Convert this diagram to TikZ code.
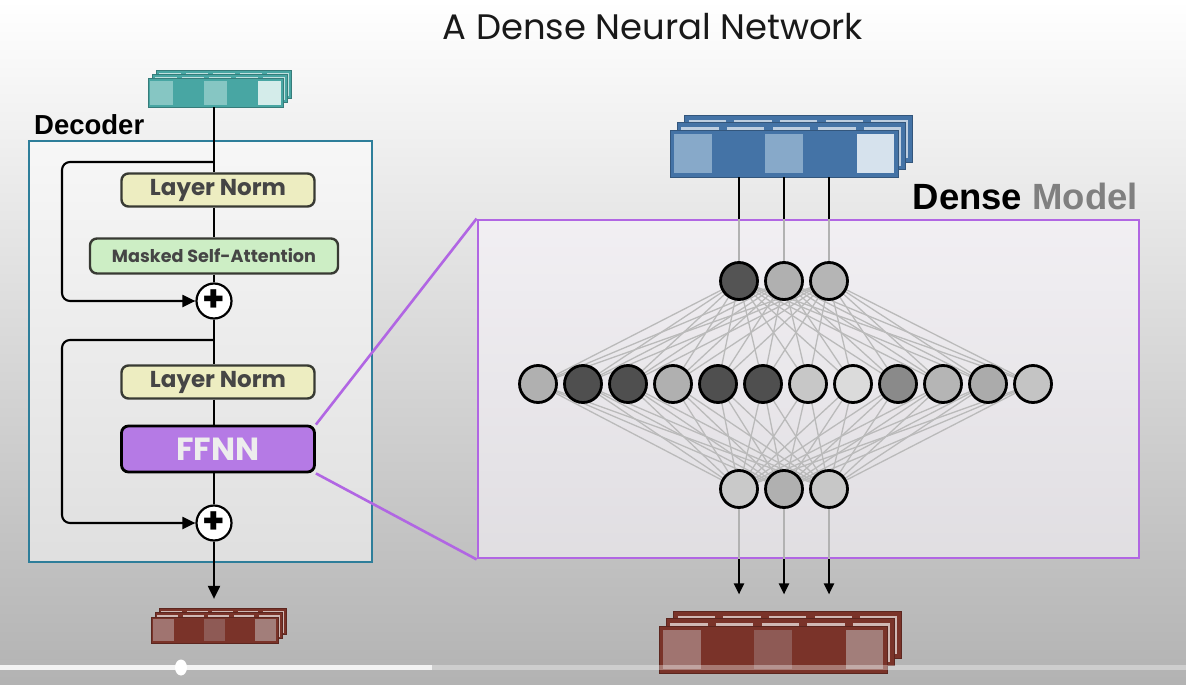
\documentclass[tikz,border=0pt]{standalone}
\usepackage{fontspec}
\setmainfont{Poppins}
\newfontfamily\headfont{Liberation Sans}
\usetikzlibrary{arrows,arrows.meta}
\usetikzlibrary{positioning}

\pgfdeclarelayer{bg}
\pgfdeclarelayer{wires}
\pgfsetlayers{bg,wires,main}

\definecolor{tealfr}{HTML}{48A6A3}
\definecolor{teallt}{HTML}{86C6C3}
\definecolor{tealxl}{HTML}{D4ECEA}
\definecolor{bluefr}{HTML}{4473A6}
\definecolor{bluelt}{HTML}{87A9C9}
\definecolor{bluexl}{HTML}{D6E2ED}
\definecolor{redfr}{HTML}{7A3329}
\definecolor{redlt}{HTML}{A07470}
\definecolor{redmd}{HTML}{8E5A55}
\definecolor{redxl}{HTML}{A27E7A}
\definecolor{normfill}{HTML}{EDEDC1}
\definecolor{attnfill}{HTML}{CDEEC5}
\definecolor{ffnnfill}{HTML}{B57AE5}
\definecolor{boxline}{HTML}{383A33}
\definecolor{boxtext}{HTML}{454545}
\definecolor{decline}{HTML}{2E7E9A}
\definecolor{zoomline}{HTML}{B166E3}
\definecolor{modelgray}{HTML}{808080}

\begin{document}
\begin{tikzpicture}[x=1pt,y=-1pt,>={Triangle[length=13pt,width=12pt]},
    flow/.style={draw=black,line width=2.1pt},
    layer box/.style={rectangle,rounded corners=7pt,draw=boxline,line width=2.4pt,inner sep=0pt,
                      text=boxtext,minimum width=193pt},
    norm node/.style={layer box,fill=normfill,minimum height=33pt,font=\bfseries\fontsize{23}{23}\selectfont},
    attn node/.style={layer box,fill=attnfill,minimum width=248pt,minimum height=35pt,
                      font=\bfseries\fontsize{17.6}{17.6}\selectfont},
    ffnn node/.style={layer box,fill=ffnnfill,draw=black,line width=2.8pt,minimum height=46pt,
                      text=white!93!black,font=\bfseries\fontsize{32}{32}\selectfont},
    add node/.style={circle,draw=black,fill=white,line width=2.2pt,minimum size=35pt,inner sep=0pt,
                     font=\bfseries\fontsize{36}{36}\selectfont},
    dec box/.style={rectangle,draw=decline,line width=2.2pt,fill=white,fill opacity=0.5,
                    minimum width=343pt,minimum height=421pt},
    zoom box/.style={rectangle,draw=zoomline,line width=2.8pt,fill=zoomline!5!white,fill opacity=0.55,
                     minimum width=661pt,minimum height=338pt},
    zoom line/.style={draw=zoomline,line width=2.6pt},
    neuron/.style={circle,draw=black,line width=2.8pt,minimum size=37pt,inner sep=0pt},
    synapse/.style={draw=black!27,line width=1.3pt},
    pics/tokens/.style args={#1/#2/#3/#4/#5/#6}{code={
      \pgfmathsetmacro\dd{0.16*#1}
      \pgfmathsetmacro\ins{0.09*#1}
      \foreach \k in {2,1} {
        \begin{scope}[shift={(\k*\dd,-\k*\dd)}]
          \fill[#3] (0,0) rectangle (5*#1,#2);
          \foreach \ci in {0,...,4}
            \fill[#3!35!white] ({\ci*#1+\ins},\ins) rectangle ({(\ci+1)*#1-\ins},{#2-\ins});
          \draw[#3!75!black,line width=1pt] (0,0) rectangle (5*#1,#2);
        \end{scope}
      }
      \fill[#3] (0,0) rectangle (5*#1,#2);
      \foreach \ci/\col in {0/#4,2/#5,4/#6}
        \fill[\col] ({\ci*#1+\ins},\ins) rectangle ({(\ci+1)*#1-\ins},{#2-\ins});
      \draw[#3!75!black,line width=1pt] (0,0) rectangle (5*#1,#2);
      \coordinate (-n) at (2.5*#1,{-2*\dd});
      \coordinate (-s) at (2.5*#1,#2);
    }}]

  \useasboundingbox (0,0) rectangle (1186,685);
  \begin{pgfonlayer}{bg}
    \shade[top color=white,middle color=black!4,bottom color=black!30] (0,0) rectangle (1186,685);
  \end{pgfonlayer}

  \node[font=\fontsize{35.4}{35.4}\selectfont,text=black!90] (title) at (653,27) {A Dense Neural Network};

  \pic (inTok) at (148,79) {tokens=27/28/tealfr/teallt/teallt/tealxl};
  \pic (outTok) at (151,617) {tokens=25.4/26/redfr/redlt/redmd/redxl};
  \pic (hidIn) at (670,130) {tokens=45.6/47/bluefr/bluelt/bluelt/bluexl};
  \pic (hidOut) at (659,626) {tokens=45.6/47/redfr/redlt/redmd/redxl};

  \node[dec box] (dec) at (200.5,351.5) {};
  \node[font=\headfont\bfseries\fontsize{27.5}{27.5}\selectfont,anchor=base west,inner sep=0pt] (declabel) at (34,134) {Decoder};

  \node[norm node] (ln1) at (218,190) {Layer Norm};
  \node[attn node] (msa) at (214,256) {Masked Self-Attention};
  \node[add node] (add1) at (214,301) {+};
  \node[norm node] (ln2) [below of=ln1,node distance=192pt] {Layer Norm};
  \node[ffnn node] (ffnn) [below of=ln2,node distance=67pt] {FFNN};
  \node[add node] (add2) at (214,523) {+};
  \coordinate (br1) at (214,162);
  \coordinate (br2) at (214,340);

  \draw[flow] (inTok-s -| add1) -- (ln1.north -| add1);
  \draw[flow] (ln1.south -| add1) -- (msa);
  \draw[flow] (msa) -- (add1);
  \draw[flow] (add1) -- (ln2.north -| add1);
  \draw[flow] (ln2.south -| add1) -- (ffnn.north -| add1);
  \draw[flow] (ffnn.south -| add1) -- (add2);
  \draw[flow,->,shorten >=10pt] (add2) -- (outTok-n -| add2);
  \draw[flow,->,rounded corners=8pt] (br1) -| ([xshift=-152pt]add1.center) -- (add1);
  \draw[flow,->,rounded corners=8pt] (br2) -| ([xshift=-152pt]add2.center) -- (add2);

  \begin{pgfonlayer}{bg}
    \node[zoom box] (zoom) at (808.5,389) {};
  \end{pgfonlayer}
  \node[font=\headfont\bfseries\fontsize{36.5}{36.5}\selectfont,anchor=base east,inner sep=0pt] (dmlabel)
    at (1138,209) {Dense \textcolor{modelgray}{Model}};
  \draw[zoom line] (ffnn.north east) -- (zoom.north west);
  \draw[zoom line] (ffnn.south east) -- (zoom.south west);

  \foreach \g [count=\i] in {67,31,29}
    \node[neuron,fill=black!\g] (t\i) at ({694+45*\i},281) {};
  \foreach \g [count=\i] in {31,69,69,31,69,69,22,14,46,29,33,23}
    \node[neuron,fill=black!\g] (m\i) at ({493+45*\i},384) {};
  \foreach \g [count=\i] in {21,31,22}
    \node[neuron,fill=black!\g] (b\i) at ({694+45*\i},489) {};

  \begin{pgfonlayer}{wires}
    \foreach \i in {1,2,3}
      \foreach \j in {1,...,12} {
        \draw[synapse] (t\i) -- (m\j);
        \draw[synapse] (m\j) -- (b\i);
      }
  \end{pgfonlayer}
  \foreach \i in {1,2,3} {
    \draw[flow] (t\i |- hidIn-s) -- (t\i |- zoom.north);
    \draw[flow,draw=black!30] (t\i |- zoom.north) -- (t\i);
    \draw[flow,draw=black!30] (b\i) -- (b\i |- zoom.south);
    \draw[flow,-{Triangle[length=11pt,width=10pt]},shorten >=17pt] (b\i |- zoom.south) -- (b\i |- hidOut-n);
  }

  \fill[white,opacity=0.85] (0,665) rectangle (432,670);
  \fill[white,opacity=0.35] (432,665) rectangle (1186,670);
  \fill[white] (181,667.5) ellipse (6 and 8);
\end{tikzpicture}
\end{document}
